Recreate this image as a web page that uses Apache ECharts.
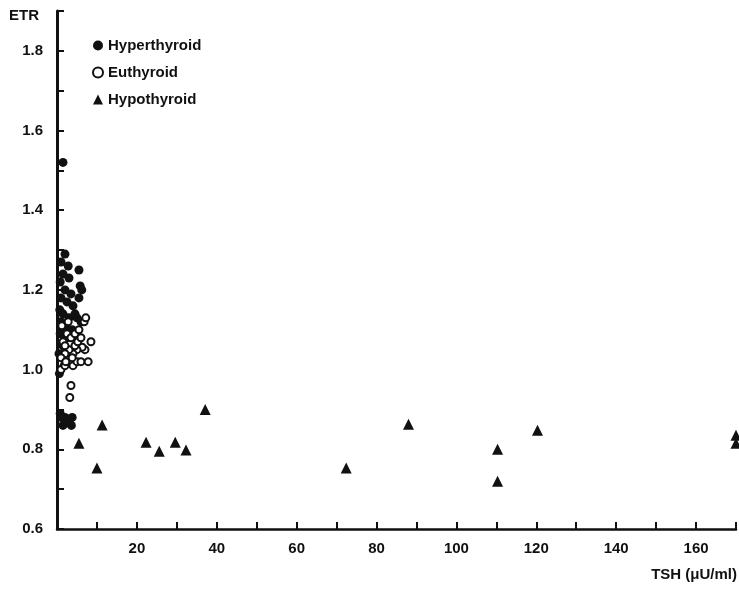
<!DOCTYPE html>
<html>
<head>
<meta charset="utf-8">
<script src="https://cdn.jsdelivr.net/npm/echarts@6/dist/echarts.min.js"></script>
<style>html,body{margin:0;padding:0;background:#fff;}#c{width:739px;height:595px;}</style>
</head>
<body>
<div id="c"></div>
<script>
const hyperTSH = [1.5,2.0,1.0,2.8,1.5,3.0,0.8,5.5,5.8,2.0,3.5,1.0,5.5,6.2,2.5,4.0,0.7,1.5,3.0,5.0,6.0,1.0,2.2,3.8,0.8,2.5,1.5,0.5,0.8,2.0,3.0,1.5,3.6,2.5,1.0,3.8,0.6,4.5,1.8];
const hyperETR = [1.52,1.29,1.27,1.26,1.24,1.23,1.22,1.25,1.21,1.20,1.19,1.18,1.18,1.20,1.17,1.16,1.15,1.14,1.13,1.13,1.12,1.12,1.11,1.10,1.09,1.08,1.06,1.04,0.89,0.88,0.87,0.86,0.86,0.87,0.88,0.88,0.99,1.14,1.01];
const euTSH = [1.0,2.0,3.0,4.0,5.0,6.0,7.8,8.5,7.0,6.3,5.0,4.0,3.0,2.0,1.5,2.5,3.5,4.5,5.5,6.8,7.2,1.0,2.0,3.5,3.2,4.5,1.2,2.8,3.8,5.2,2.2,6.0];
const euETR = [1.00,1.01,1.02,1.01,1.02,1.02,1.02,1.07,1.05,1.056,1.05,1.04,1.05,1.04,1.07,1.09,1.08,1.09,1.10,1.12,1.13,1.03,1.06,0.96,0.93,1.06,1.11,1.12,1.03,1.07,1.02,1.08];
const hypoTSH = [5.5,10,11.3,22.3,25.6,29.6,32.3,37.1,72.4,88,110.3,110.3,120.3,170,170];
const hypoETR = [0.815,0.753,0.861,0.818,0.795,0.818,0.798,0.90,0.753,0.863,0.80,0.72,0.848,0.835,0.815];
const seriesNames = ['Hyperthyroid','Euthyroid','Hypothyroid'];
const xLabels = [20,40,60,80,100,120,140,160];
const yLabels = [0.6,0.8,1.0,1.2,1.4,1.6,1.8];

const zip = (a,b) => a.map((v,i)=>[v,b[i]]);
const font = '"Liberation Sans", Arial, sans-serif';
const chart = echarts.init(document.getElementById('c'));
chart.setOption({
  animation: false,
  backgroundColor: '#fff',
  grid: {left: 57, right: 2, top: 11, bottom: 66},
  legend: {
    orient: 'vertical', left: 87, top: 33, itemGap: 12, itemWidth: 10, itemHeight: 10,
    textStyle: {fontFamily: font, fontSize: 15, fontWeight: 'bold', color: '#111'},
    data: [
      {name: seriesNames[0], icon: 'circle'},
      {name: seriesNames[1], icon: 'emptyCircle'},
      {name: seriesNames[2], icon: 'triangle'}
    ]
  },
  xAxis: {
    type: 'value', min: 0, max: 170, interval: 10,
    axisLine: {lineStyle: {color: '#111', width: 2.5}},
    axisTick: {inside: true, length: 7, lineStyle: {color: '#111', width: 2}},
    splitLine: {show: false},
    axisLabel: {
      margin: 12, fontFamily: font, fontSize: 15, fontWeight: 'bold', color: '#111',
      formatter: v => xLabels.indexOf(Math.round(v)) >= 0 ? String(Math.round(v)) : ''
    }
  },
  yAxis: {
    type: 'value', min: 0.6, max: 1.9, interval: 0.1,
    axisLine: {lineStyle: {color: '#111', width: 3}},
    axisTick: {inside: true, length: 7, lineStyle: {color: '#111', width: 2}},
    splitLine: {show: false},
    axisLabel: {
      margin: 14, fontFamily: font, fontSize: 15, fontWeight: 'bold', color: '#111',
      formatter: v => {
        const r = Math.round(v*10)/10;
        return yLabels.some(l => Math.abs(l - r) < 1e-6) ? r.toFixed(1) : '';
      }
    }
  },
  graphic: [
    {type: 'text', left: 9, top: 8, style: {text: 'ETR', fontFamily: font, fontSize: 15, fontWeight: 'bold', fill: '#111'}},
    {type: 'text', right: 2, top: 567, style: {text: 'TSH (\u03bcU/ml)', fontFamily: font, fontSize: 15, fontWeight: 'bold', fill: '#111'}}
  ],
  series: [
    {name: seriesNames[0], type: 'scatter', symbol: 'circle', symbolSize: 9,
     itemStyle: {color: '#111', opacity: 1}, data: zip(hyperTSH, hyperETR)},
    {name: seriesNames[1], type: 'scatter', symbol: 'emptyCircle', symbolSize: 7,
     itemStyle: {color: '#111', borderWidth: 2.5, opacity: 1}, data: zip(euTSH, euETR)},
    {name: seriesNames[2], type: 'scatter', symbol: 'triangle', symbolSize: 11,
     itemStyle: {color: '#111', opacity: 1}, data: zip(hypoTSH, hypoETR)}
  ]
});
</script>
</body>
</html>
